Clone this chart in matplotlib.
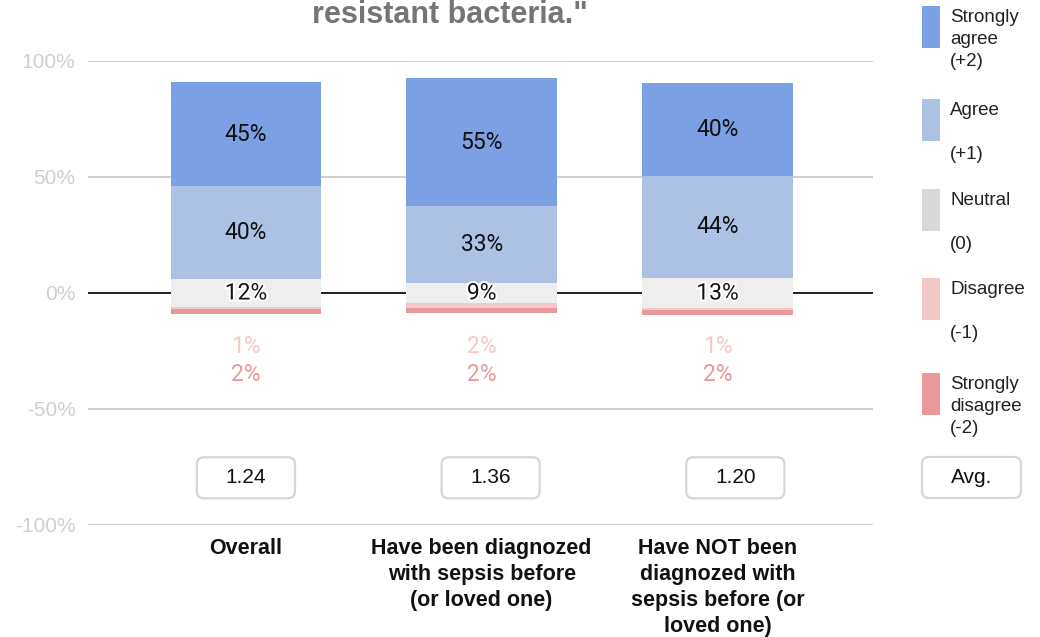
import numpy as np
import matplotlib
matplotlib.use("Agg")
import matplotlib.pyplot as plt
import matplotlib.patheffects as pe
from matplotlib.patches import FancyBboxPatch, Rectangle
from matplotlib.transforms import IdentityTransform

# Survey responses (% of respondents) per group
categories = [
    "Overall",
    "Have been diagnozed\nwith sepsis before\n(or loved one)",
    "Have NOT been\ndiagnozed with\nsepsis before (or\nloved one)",
]
strongly_agree = [45, 55, 40]
agree = [40, 33, 44]
neutral = [12, 9, 13]
disagree = [1, 2, 1]
strongly_disagree = [2, 2, 2]
averages = [1.24, 1.36, 1.20]

y_ticks = [100, 50, 0, -50, -100]
y_tick_labels = ["100%", "50%", "0%", "-50%", "-100%"]

legend_labels = [
    "Strongly\nagree\n(+2)",
    "Agree\n\n(+1)",
    "Neutral\n\n(0)",
    "Disagree\n\n(-1)",
    "Strongly\ndisagree\n(-2)",
]

C_SA = "#7ba0e4"
C_A = "#adc1e4"
C_N = "#eeeeee"
C_N_LEG = "#d9d9d9"
C_D = "#f4c8c8"
C_SD = "#e99999"

SANS = ["Liberation Sans", "DejaVu Sans"]
ROBO = ["Roboto", "DejaVu Sans"]

fig = plt.figure(figsize=(10.4, 6.37), dpi=100)
ax = fig.add_axes([88 / 1040, 1 - 525 / 637, 785 / 1040, 464 / 637])

x = np.arange(len(categories))
w = 0.64
sa = np.array(strongly_agree, float)
ag = np.array(agree, float)
ne = np.array(neutral, float)
di = np.array(disagree, float)
sd = np.array(strongly_disagree, float)

# neutral straddles zero, agreement stacks up, disagreement stacks down
n_bottom = -ne / 2
ax.bar(x, ne, w, bottom=n_bottom, color=C_N, zorder=3)
ax.bar(x, ag, w, bottom=ne / 2, color=C_A, zorder=3)
ax.bar(x, sa, w, bottom=ne / 2 + ag, color=C_SA, zorder=3)
ax.bar(x, -di, w, bottom=n_bottom, color=C_D, zorder=3)
ax.bar(x, -sd, w, bottom=n_bottom - di, color=C_SD, zorder=3)

halo = [pe.withStroke(linewidth=3, foreground="white")]
FS = 16.5
for i in range(len(x)):
    ax.text(x[i], ne[i] / 2 + ag[i] + sa[i] / 2, f"{strongly_agree[i]}%", ha="center", va="center",
            fontsize=FS, family=ROBO, color="#111111", zorder=5)
    ax.text(x[i], ne[i] / 2 + ag[i] / 2, f"{agree[i]}%", ha="center", va="center",
            fontsize=FS, family=ROBO, color="#111111", zorder=5)
    ax.text(x[i], 0, f"{neutral[i]}%", ha="center", va="center",
            fontsize=FS, family=ROBO, color="#111111", zorder=5, path_effects=halo)
    ax.text(x[i], -23, f"{disagree[i]}%", ha="center", va="center",
            fontsize=FS, family=ROBO, color=C_D, zorder=5)
    ax.text(x[i], -35, f"{strongly_disagree[i]}%", ha="center", va="center",
            fontsize=FS, family=ROBO, color=C_SD, zorder=5)

ax.set_xlim(-0.67, 2.66)
ax.set_ylim(-100, 100)
ax.set_yticks(y_ticks)
ax.set_yticklabels(y_tick_labels, family=SANS, fontsize=15, color="#cfcfcf")
ax.tick_params(axis="y", length=0, pad=9)
ax.set_xticks([])
for s in ax.spines.values():
    s.set_visible(False)
ax.set_axisbelow(True)
ax.yaxis.grid(True, color="#cccccc", lw=1.3)
ax.axhline(0, color="#222222", lw=1.4, zorder=2)

# category labels under the axis
for i, lab in enumerate(categories):
    ax.text(x[i], -105.8, lab, ha="center", va="top", fontsize=15.5, fontweight="bold",
            family=SANS, color="#111111", linespacing=1.3, clip_on=False)

fig.canvas.draw()


def rounded_box(x0, y0, x1, y1, text):
    p = FancyBboxPatch((x0, y0), x1 - x0, y1 - y0, boxstyle="round,pad=0,rounding_size=7",
                       transform=IdentityTransform(), facecolor="white",
                       edgecolor="#d6d6d6", lw=1.6, zorder=6)
    fig.patches.append(p)
    fig.text((x0 + x1) / 2 / 1040, (y0 + y1) / 2 / 637, text, ha="center", va="center",
             fontsize=15, family=SANS, color="#111111", zorder=7)


# average score boxes, laid out on a slightly wider step than the bars
box_w = 0.416
box_step = 1.038
for i, v in enumerate(averages):
    cx = x[i] * box_step
    (px0, py0) = ax.transData.transform((cx - box_w / 2, -88.5))
    (px1, py1) = ax.transData.transform((cx + box_w / 2, -70.8))
    rounded_box(px0, py0, px1, py1, f"{v:.2f}")

# "Avg." box in the legend column
rounded_box(922, 637 - 498, 1021, 637 - 457, "Avg.")

# legend
leg_colors = [C_SA, C_A, C_N_LEG, C_D, C_SD]
leg_tops = [6, 99, 189, 278, 373]
for col, top, lab in zip(leg_colors, leg_tops, legend_labels):
    fig.patches.append(Rectangle((922 / 1040, 1 - (top + 42) / 637), 18 / 1040, 42 / 637,
                                 transform=fig.transFigure, facecolor=col, edgecolor="none"))
    fig.text(950 / 1040, 1 - (top + 3) / 637, lab, ha="left", va="top", fontsize=13.5,
             family=SANS, color="#222222", linespacing=1.38)

# last line of the title
fig.text(450 / 1040, 1 - 15 / 637, "resistant bacteria.\"", ha="center", va="center",
         fontsize=22, fontweight="bold", family=SANS, color="#757575")

fig.savefig("out.png", dpi=100)
